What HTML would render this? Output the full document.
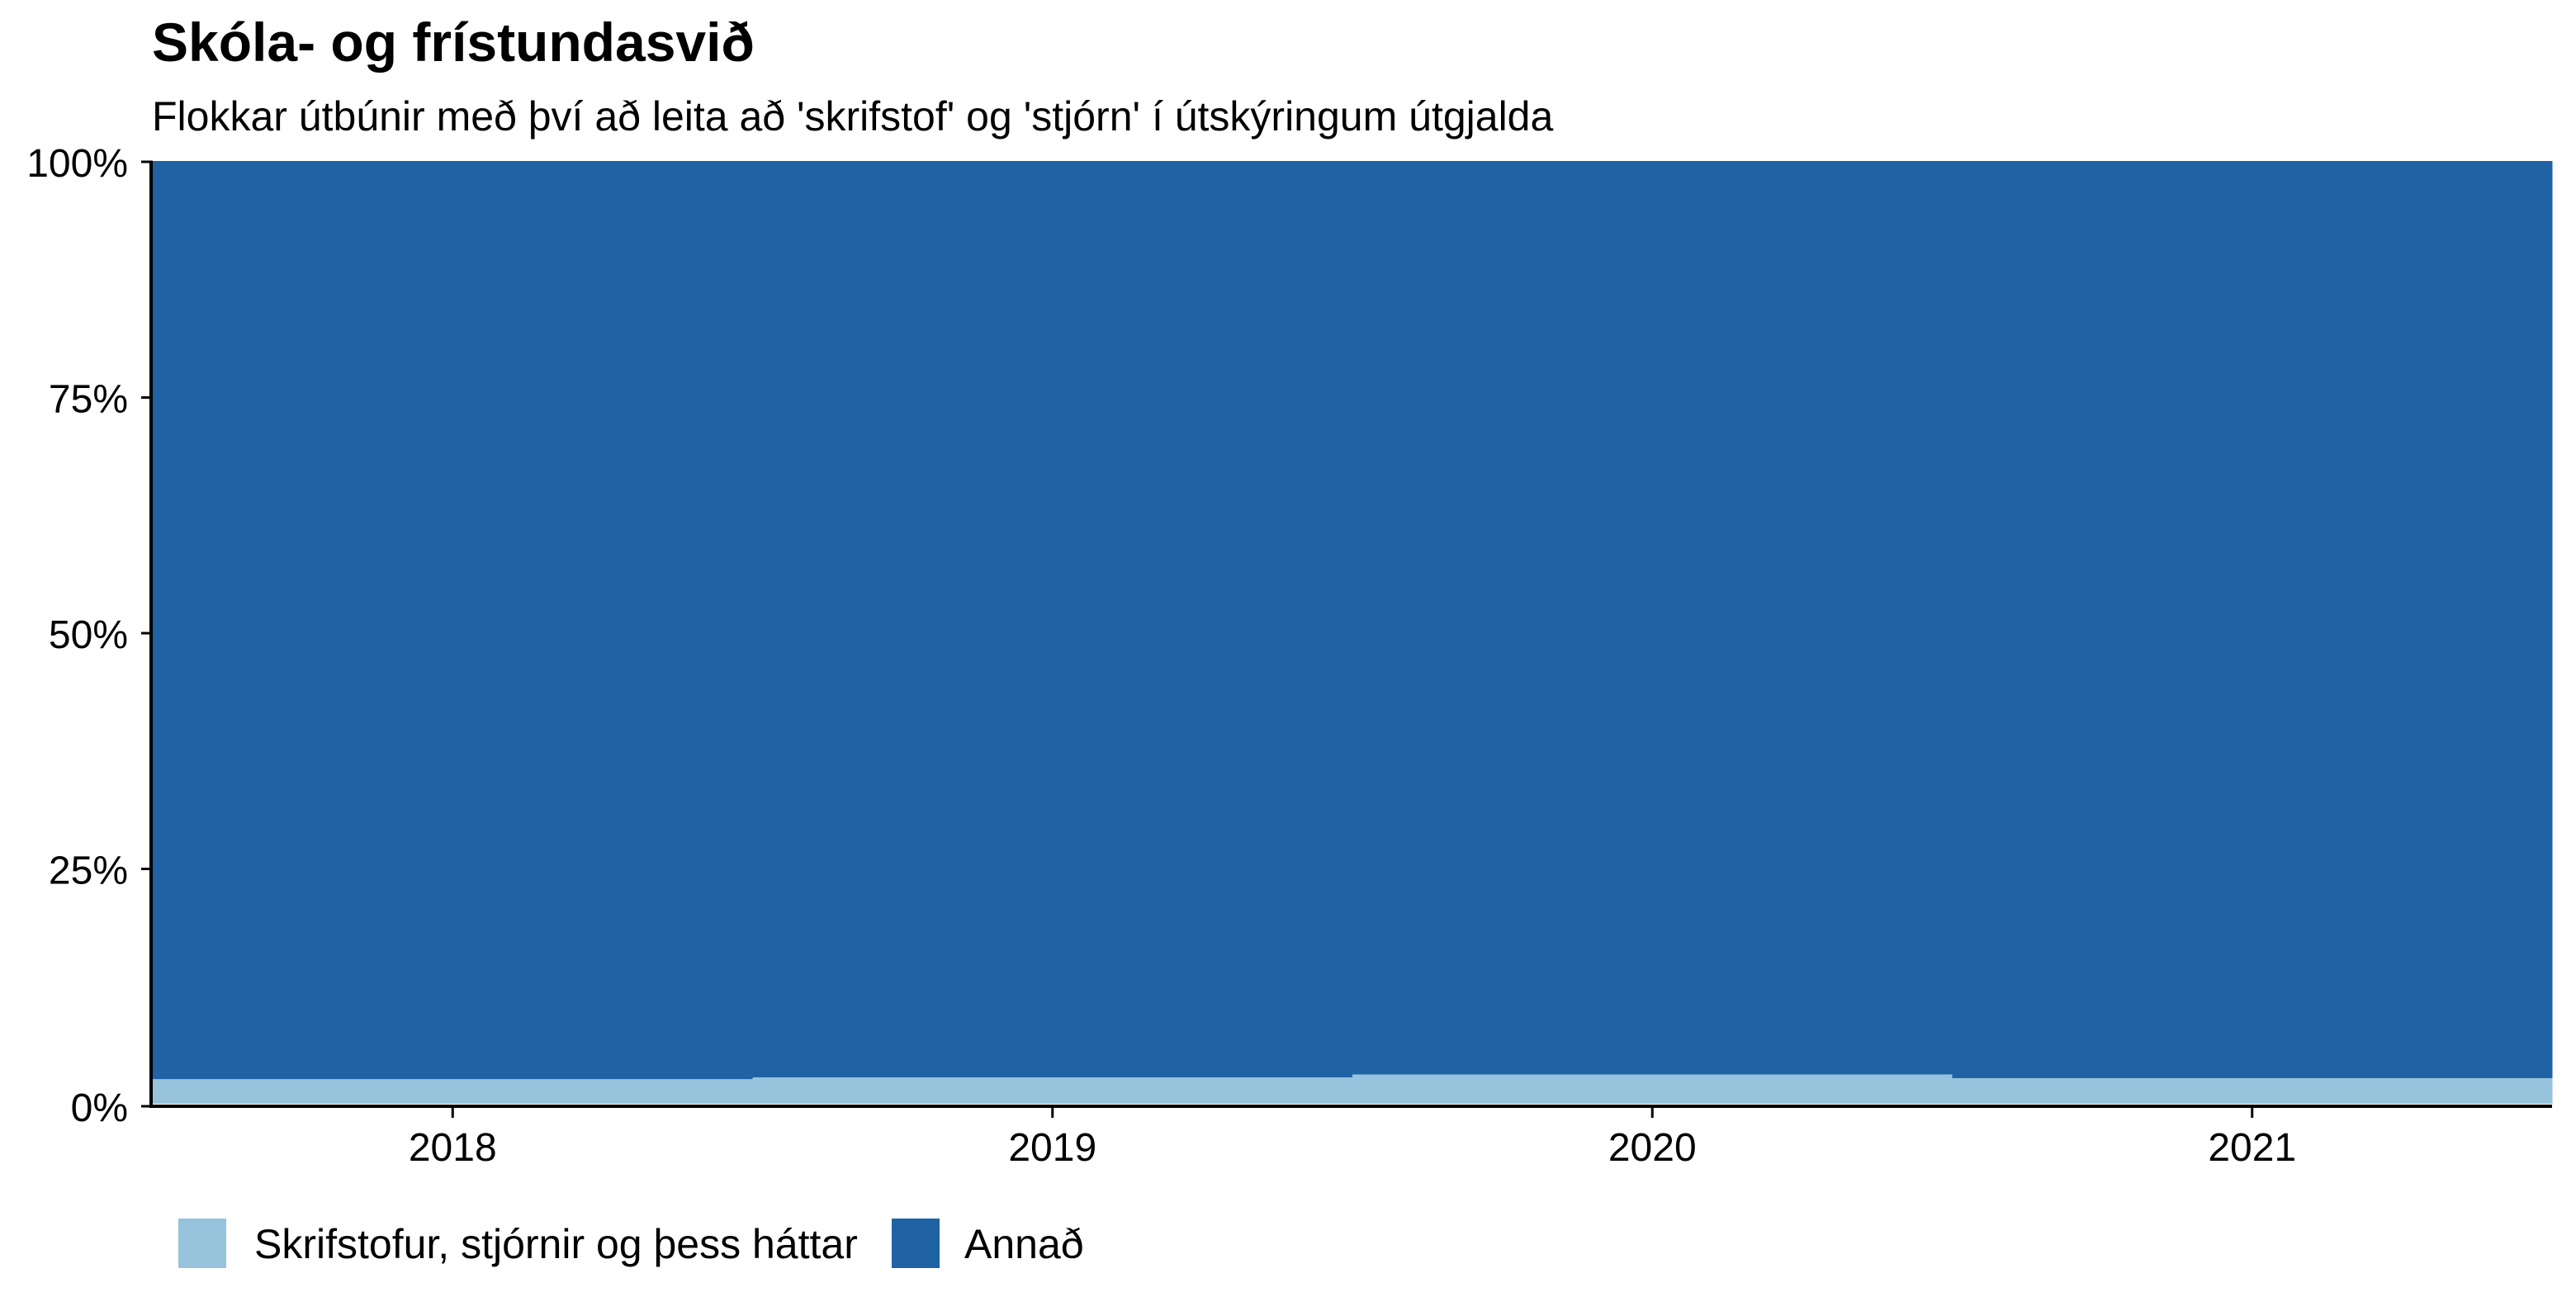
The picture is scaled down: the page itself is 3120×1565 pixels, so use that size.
<!DOCTYPE html>
<html><head><meta charset="utf-8"><style>
body{margin:0;background:#fff}
svg text{font-family:"Liberation Sans",sans-serif}
</style></head><body>
<svg id="chart" width="3120" height="1560" viewBox="0 0 3120 1560" xmlns="http://www.w3.org/2000/svg">
<rect width="3120" height="1560" fill="#fff"/>
<text x="184" y="74" font-size="66" font-weight="bold">Skóla- og frístundasvið</text>
<text x="184" y="158" font-size="50">Flokkar útbúnir með því að leita að 'skrifstof' og 'stjórn' í útskýringum útgjalda</text>
<g id="bars"></g>
<g id="axes"></g>
<g>
<rect x="216" y="1476" width="58" height="60" fill="#97c3dc"/>
<text x="308" y="1524" font-size="50">Skrifstofur, stjórnir og þess háttar</text>
<rect x="1080" y="1476" width="58" height="60" fill="#1f63a5"/>
<text x="1168" y="1524" font-size="50">Annað</text>
</g>
</svg>
<script>
const categories = ["2018","2019","2020","2021"];
const skrifstofur = [2.6, 2.8, 3.1, 2.7];
const annad = [97.4, 97.2, 96.9, 97.3];
const yTicks = [0,25,50,75,100];
const yTickLabels = ["0%","25%","50%","75%","100%"];

const NS="http://www.w3.org/2000/svg";
const L=185,R=3091,T=195,B=1337;
const band=(R-L)/categories.length;
const x=i=>L+i*band;
const y=v=>B-(v/100)*(B-T);
function mk(tag,attrs,parent){const e=document.createElementNS(NS,tag);for(const k in attrs)e.setAttribute(k,attrs[k]);parent.appendChild(e);return e;}
const bars=document.getElementById('bars');
categories.forEach((c,i)=>{
  const tot=skrifstofur[i]+annad[i];
  const s=skrifstofur[i]/tot*100;
  const a1=mk('rect',{x:x(i),y:y(100),width:band+0.5,height:y(s)-y(100),fill:'#1f63a5'},bars);
  
  
  const r=mk('rect',{x:x(i),y:y(s),width:band+0.5,height:y(0)-y(s),fill:'#97c3dc'},bars);
  
  
});
const ax=document.getElementById('axes');
const yl=mk('line',{x1:L-2,y1:T,x2:L-2,y2:B+5,stroke:'#000','stroke-width':4},ax);


const xl=mk('line',{x1:L-4,y1:B+3,x2:R,y2:B+3,stroke:'#000','stroke-width':4},ax);


yTicks.forEach((v,i)=>{
  const yy=v===0?B+3:y(v)+1;
  const t=mk('line',{x1:L-14,y1:yy,x2:L,y2:yy,stroke:'#000','stroke-width':3},ax);
  
  
  const tx=mk('text',{x:L-30,y:yy+18,'font-size':48,'text-anchor':'end'},ax);
  tx.textContent=yTickLabels[i];
  
  
});
categories.forEach((c,i)=>{
  const cx=x(i)+band/2;
  const t=mk('line',{x1:cx,y1:B+3,x2:cx,y2:B+17,stroke:'#000','stroke-width':3},ax);
  
  
  const tx=mk('text',{x:cx,y:B+69,'font-size':48,'text-anchor':'middle'},ax);
  tx.textContent=c;
  
  
});
</script>
</body></html>
